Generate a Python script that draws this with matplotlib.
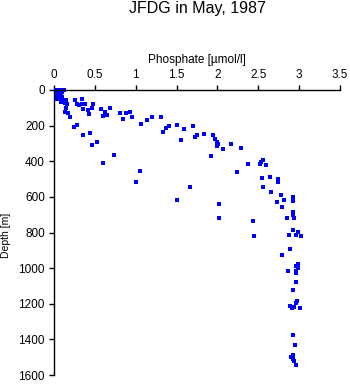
import matplotlib
matplotlib.use("Agg")
import matplotlib.pyplot as plt

plt.rcParams['font.family'] = ['Liberation Sans', 'DejaVu Sans']

title = "JFDG in May, 1987"
xlabel = "Phosphate [\u00b5mol/l]"
ylabel = "Depth [m]"
xticks = [0, 0.5, 1, 1.5, 2, 2.5, 3, 3.5]
xticklabels = ["0", "0.5", "1", "1.5", "2", "2.5", "3", "3.5"]
yticks = [0, 200, 400, 600, 800, 1000, 1200, 1400, 1600]

phosphate = [
    0.02, 0.04, 0.06, 0.09, 0.12, 0.03, 0.05, 0.08, 0.02, 0.06, 0.10, 0.03, 0.05, 0.08,
    0.04, 0.07, 0.02, 0.06, 0.10, 0.09,
    0.03, 0.06, 0.09, 0.12, 0.15, 0.08, 0.13, 0.155, 0.26, 0.147, 0.14, 0.175, 0.196,
    0.25, 0.285, 0.285, 0.31, 0.34, 0.347, 0.35, 0.38, 0.41, 0.43, 0.46, 0.48,
    0.35, 0.445, 0.47, 0.53, 0.58, 0.60, 0.62, 0.645, 0.68, 0.60, 0.73, 0.81, 0.845,
    0.885, 0.93, 0.96, 1.065, 1.007, 1.05, 1.14, 1.20, 1.31, 1.34, 1.375, 1.41, 1.50,
    1.56, 1.59, 1.66, 1.50, 1.705, 1.73, 1.75, 1.83, 1.95, 1.965, 2.0, 2.01, 2.0,
    2.065, 2.17, 2.29, 1.925, 2.37, 2.245, 2.535, 2.56, 2.525, 2.59, 2.54, 2.645,
    2.56, 2.65, 2.745, 2.745, 2.78, 2.73, 2.81, 2.795, 2.92, 2.92, 2.015, 2.02,
    2.435, 2.45, 2.925, 2.92, 2.94, 2.85, 2.93, 2.99, 2.96, 3.02, 2.88, 2.89, 2.795,
    2.98, 2.96, 2.99, 2.96, 2.86, 2.96, 2.96, 2.93, 2.975, 2.96, 2.89, 2.94, 2.91,
    3.01, 2.93, 2.955, 2.93, 2.905, 2.92, 2.94, 2.96,
]
depth = [
    0, 0, 0, 0, 0, 5, 8, 10, 15, 15, 12, 20, 25, 22,
    30, 30, 35, 38, 40, 32,
    52, 52, 52, 55, 58, 67, 72, 79, 58, 101, 125, 131, 150,
    206, 197, 80, 84, 80, 52, 108, 80, 112, 137, 103, 79,
    255, 243, 309, 294, 105, 146, 125, 140, 103, 412, 367, 129, 161,
    129, 125, 153, 193, 515, 455, 168, 153, 153, 236, 215, 204, 198,
    281, 221, 547, 619, 204, 266, 254, 249, 254, 275, 294, 303, 314,
    333, 303, 327, 372, 417, 462, 402, 395, 417, 423, 496, 490,
    544, 575, 500, 517, 592, 631, 616, 655, 601, 621, 642, 720,
    736, 822, 687, 702, 721, 721, 788, 799, 816, 822, 814, 894, 928,
    979, 988, 1001, 1015, 1018, 1025, 1080, 1125, 1187, 1197, 1213, 1220, 1226,
    1226, 1378, 1429, 1490, 1499, 1510, 1522, 1546,
]

fig = plt.figure(figsize=(3.5, 3.84), dpi=100)
ax = fig.add_axes([54/350, 1-375/384, 286/350, 285/384])

ax.plot(phosphate, depth, linestyle='none', marker='s', markersize=2.4,
        color='#0000ff', markeredgewidth=0, clip_on=False)

ax.set_xlim(0, 3.5)
ax.set_ylim(1600, 0)
ax.xaxis.tick_top()
ax.xaxis.set_label_position('top')
ax.set_xticks(xticks)
ax.set_xticklabels(xticklabels)
ax.set_yticks(yticks)
ax.set_yticklabels([str(v) for v in yticks])
ax.tick_params(axis='both', direction='out', length=3.6, width=1.0,
               labelsize=8.5, pad=3, colors='black')
for s in ['right', 'bottom']:
    ax.spines[s].set_visible(False)
for s in ['left', 'top']:
    ax.spines[s].set_linewidth(1.0)

ax.set_xlabel(xlabel, fontsize=8.5, labelpad=4)
fig.text(6/350, 1-235/384, ylabel, rotation=90, ha='center', va='center', fontsize=7.5)
fig.text(197/350, 1-13.5/384, title, ha='center', va='baseline', fontsize=11.5)

fig.savefig('out.png', dpi=100)
